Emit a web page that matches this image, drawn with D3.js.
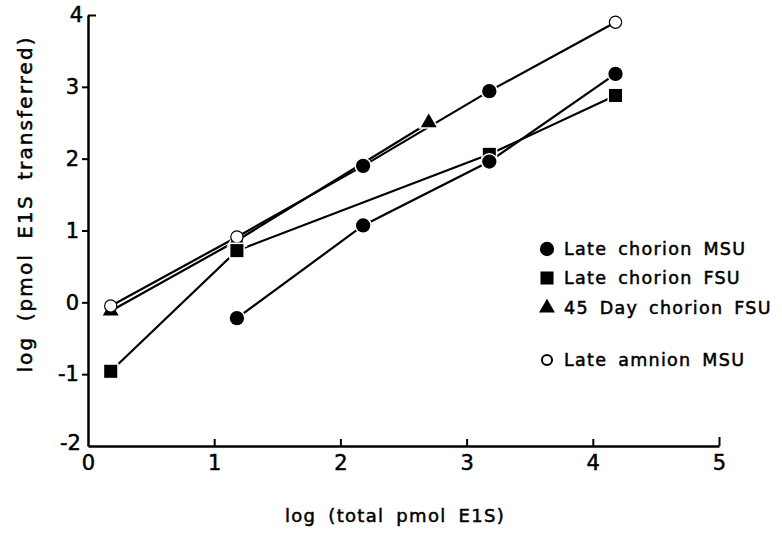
<!DOCTYPE html>
<html>
<head>
<meta charset="utf-8">
<script src="https://cdn.jsdelivr.net/npm/d3@7"></script>
<style>
  body { margin: 0; background: #fff; }
  svg text { font-family: "DejaVu Sans", sans-serif; fill: #000; stroke: #000; stroke-width: 0.5px; }
</style>
</head>
<body>
<div id="chart"></div>
<script>
// values
var xTicks = [0, 1, 2, 3, 4, 5];
var yTicks = [-2, -1, 0, 1, 2, 3, 4];

var msuX = [1.18, 2.18, 3.18, 4.18];
var msuY = [-0.22, 1.07, 1.96, 3.18];

var fsuX = [0.18, 1.18, 3.18, 4.18];
var fsuY = [-0.96, 0.72, 2.06, 2.88];

var day45X = [0.18, 1.18, 2.7];
var day45Y = [-0.12, 0.86, 2.5];

var amnionX = [0.18, 1.18, 2.18, 3.18, 4.18];
var amnionY = [-0.05, 0.91, 1.9, 2.94, 3.9];
var amnionFilled = [false, false, true, true, false];

var legendLabels = ["Late chorion MSU", "Late chorion FSU", "45 Day chorion FSU", "Late amnion MSU"];

var W = 782, H = 533;
var svg = d3.select("#chart").append("svg")
    .attr("width", W).attr("height", H);

var x = d3.scaleLinear().domain([0, 5]).range([88, 719]);
var y = d3.scaleLinear().domain([-2, 4]).range([446, 15]);

// axes
var xAxis = d3.axisBottom(x).tickValues(xTicks).tickSizeInner(-7).tickSizeOuter(0).tickPadding(9)
    .tickFormat(d3.format("d"));
var gx = svg.append("g").attr("transform", "translate(0," + y(-2) + ")").call(xAxis);
gx.select(".domain").attr("stroke-width", 2.5);
gx.selectAll(".tick line").attr("stroke-width", 2)
    .attr("y2", function(d) { return d === 0 ? 0 : (d === 5 ? -9 : -7); });
gx.selectAll(".tick text").attr("font-size", 21);

var yAxis = d3.axisLeft(y).tickValues(yTicks).tickSizeInner(6).tickSizeOuter(0).tickPadding(3)
    .tickFormat(function(d) { return d < 0 ? "-" + Math.abs(d) : d; });
var gy = svg.append("g").attr("transform", "translate(" + x(0) + ",0)").call(yAxis);
gy.select(".domain").attr("stroke-width", 2.5);
gy.selectAll(".tick line").attr("stroke-width", 2)
    .attr("x2", function(d) { return d === 4 ? 8 : (d === -2 ? 0 : -6); });
gy.selectAll(".tick text").attr("font-size", 21)
    .attr("dx", function(d) { return d === 4 ? 4 : (d === -2 ? 2 : 0); })
    .attr("dy", function(d) { return d === -2 ? "0.15em" : "0.32em"; });

// axis titles
svg.append("text")
    .attr("x", 395).attr("y", 522)
    .attr("text-anchor", "middle")
    .attr("font-size", 18)
    .attr("letter-spacing", 1.3)
    .attr("word-spacing", 5)
    .text("log (total pmol E1S)");

svg.append("text")
    .attr("transform", "translate(32,204) rotate(-90)")
    .attr("text-anchor", "middle")
    .attr("font-size", 20)
    .attr("letter-spacing", 2.1)
    .attr("word-spacing", 6)
    .text("log (pmol E1S transferred)");

// lines
var line = d3.line().x(function(p) { return x(p[0]); }).y(function(p) { return y(p[1]); });
var series = [
    d3.zip(amnionX, amnionY),
    d3.zip(day45X, day45Y),
    d3.zip(fsuX, fsuY),
    d3.zip(msuX, msuY)
];
svg.append("g").selectAll("path").data(series).enter().append("path")
    .attr("d", line)
    .attr("fill", "none")
    .attr("stroke", "#000")
    .attr("stroke-width", 2.2);

// markers
var sym = {
    circle: d3.symbol().type(d3.symbolCircle).size(160),
    square: d3.symbol().type(d3.symbolSquare).size(170),
    triangle: d3.symbol().type(d3.symbolTriangle).size(110)
};
var marks = svg.append("g");

function drawMarks(xs, ys, shape, filledFn) {
    marks.selectAll(null).data(d3.zip(xs, ys)).enter().append("path")
        .attr("transform", function(p) { return "translate(" + x(p[0]) + "," + y(p[1]) + ")"; })
        .attr("d", function(p, i) { return filledFn(i) ? sym[shape]() : d3.symbol().type(d3.symbolCircle).size(95)(); })
        .attr("fill", function(p, i) { return filledFn(i) ? "#000" : "#fff"; })
        .attr("stroke", function(p, i) { return filledFn(i) ? "#fff" : "#000"; })
        .attr("stroke-width", function(p, i) { return filledFn(i) ? 3 : 2.4; })
        .attr("paint-order", "stroke");
}
drawMarks(day45X, day45Y, "triangle", function() { return true; });
drawMarks(amnionX, amnionY, "circle", function(i) { return amnionFilled[i]; });
drawMarks(fsuX, fsuY, "square", function() { return true; });
drawMarks(msuX, msuY, "circle", function() { return true; });

// legend
var legY = [249, 278, 308, 360];
var legShape = ["circle", "square", "triangle", "open"];
var leg = svg.append("g");
legendLabels.forEach(function(lab, i) {
    var m = leg.append("path")
        .attr("transform", "translate(547," + legY[i] + ")");
    if (legShape[i] === "open") {
        m.attr("d", d3.symbol().type(d3.symbolCircle).size(80)())
            .attr("fill", "#fff").attr("stroke", "#000").attr("stroke-width", 2);
    } else {
        m.attr("d", sym[legShape[i]]()).attr("fill", "#000");
    }
    leg.append("text")
        .attr("x", 564).attr("y", legY[i])
        .attr("dy", "0.36em")
        .attr("font-size", 17.5)
        .attr("letter-spacing", 1.3)
        .attr("word-spacing", 4)
        .text(lab);
});
</script>
</body>
</html>
